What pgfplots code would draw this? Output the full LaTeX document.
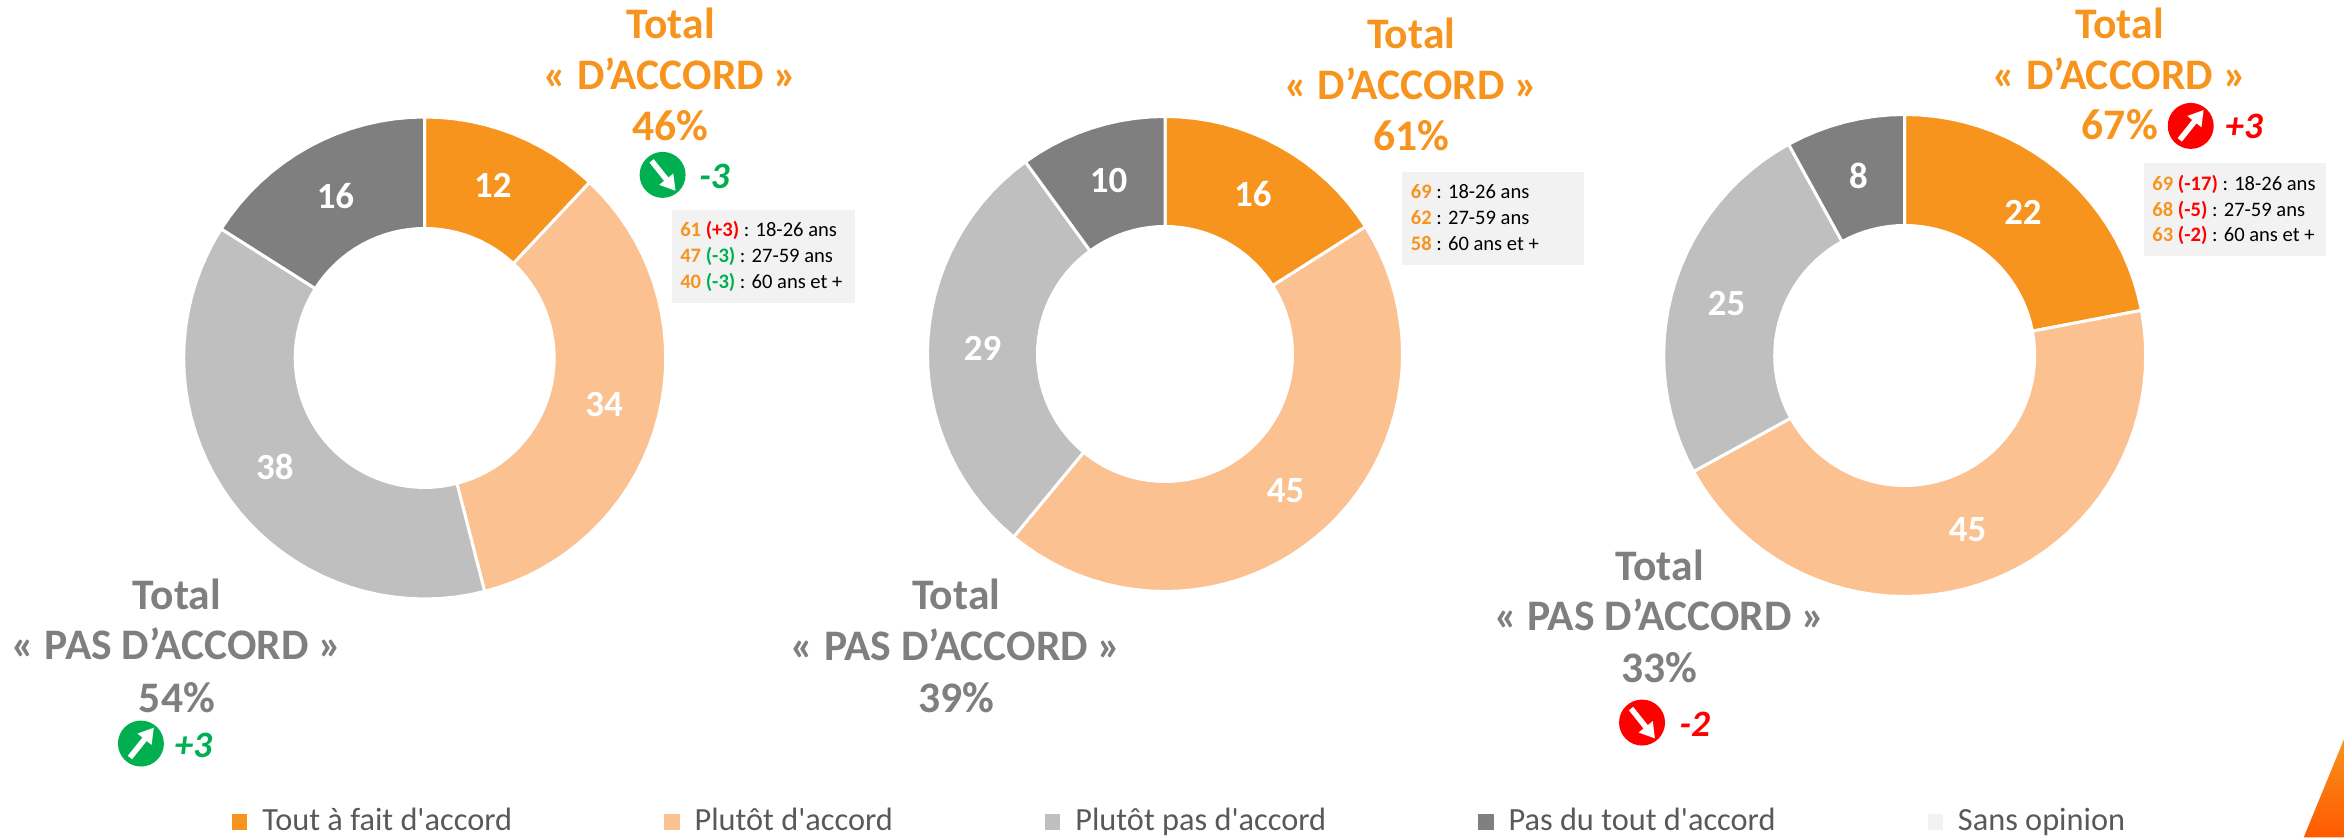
\documentclass[border=0pt]{standalone}
\usepackage{pgfplots}
\pgfplotsset{compat=1.18}
\usepgfplotslibrary{polar}
\usetikzlibrary{arrows.meta}
\usepackage{fontspec}
\setmainfont{Carlito}
\definecolor{c1}{HTML}{F7941E}
\definecolor{c2}{HTML}{FBC191}
\definecolor{c3}{HTML}{BFBFBF}
\definecolor{c4}{HTML}{7F7F7F}
\definecolor{c5}{HTML}{F2F2F2}
\definecolor{gtxt}{HTML}{595959}
\definecolor{grn}{HTML}{00B050}
\definecolor{rd}{HTML}{FF0000}
\tikzset{wedge/.style={draw=white,line width=0.03cm,line join=miter},
  dl/.style={text=white,font=\fontsize{10.5pt}{12pt}\selectfont\bfseries,inner sep=0pt},
  tl/.style={anchor=base,inner sep=0pt,yshift=-0.015cm,font=\fontsize{12.4pt}{14pt}\selectfont\bfseries},
  dv/.style={anchor=base west,inner sep=0pt,font=\fontsize{10.6pt}{12pt}\selectfont\bfseries\itshape},
  bx/.style={anchor=base west,inner sep=0pt,font=\fontsize{5.85pt}{7pt}\selectfont}}
\newcommand\ring[3]{%
  \def\pts{}%
  \pgfplotsforeachungrouped \i in {0,...,#2}{%
    \pgfmathsetmacro\t{mod(450-3.6*(#1+\i),360)}%
    \edef\pts{\pts (\t,\Ro)}}%
  \pgfplotsforeachungrouped \i in {0,...,#2}{%
    \pgfmathsetmacro\t{mod(450-3.6*(#1+#2-\i),360)}%
    \edef\pts{\pts (\t,\Ri)}}%
  \edef\tmp{\noexpand\addplot[wedge,fill=#3] coordinates {\pts} --cycle;}\tmp
  \pgfmathsetmacro\t{mod(450-3.6*(#1+#2/2),360)}%
  \pgfmathsetmacro\Rm{(\Ro+\Ri)/2}%
  \edef\tmp{\noexpand\node[dl] at (axis cs:\t,\Rm) {#2};}\tmp
}
\pgfplotsset{donut/.style={scale only axis,hide axis,clip=false,anchor=center,
  xmin=0,xmax=360,ymin=0}}
\newcommand\icon[4]{% x y colour dir(1 up, -1 down)
  \fill[#3] (#1,#2) circle (23);
  \draw[white,line width=0.055cm,-{Triangle[length=0.15cm,width=0.17cm]}]
    (#1-11,{#2+#4*14}) -- (#1+13,{#2-#4*16});
}
\newcommand\xo[1]{\textcolor{c1}{\bfseries #1}}
\newcommand\xr[1]{\textcolor{rd}{\bfseries #1}}
\newcommand\xg[1]{\textcolor{grn}{\bfseries #1}}
\begin{document}
\begin{tikzpicture}
\path[use as bounding box] (0,0) rectangle (23.46cm,8.38cm);
% Chart 1
\def\Ro{241}\def\Ri{129.5}
\begin{polaraxis}[donut,at={(4.247cm,4.80cm)},width=4.82cm,height=4.82cm,ymax=241]
\ring{0}{12}{c1}\ring{12}{34}{c2}\ring{46}{38}{c3}\ring{84}{16}{c4}
\end{polaraxis}
% Chart 2
\def\Ro{237.5}\def\Ri{127.5}
\begin{polaraxis}[donut,at={(11.65cm,4.84cm)},width=4.75cm,height=4.75cm,ymax=237.5]
\ring{0}{16}{c1}\ring{16}{45}{c2}\ring{61}{29}{c3}\ring{90}{10}{c4}
\end{polaraxis}
% Chart 3
\def\Ro{241}\def\Ri{130}
\begin{polaraxis}[donut,at={(19.047cm,4.825cm)},width=4.82cm,height=4.82cm,ymax=241]
\ring{0}{22}{c1}\ring{22}{45}{c2}\ring{67}{25}{c3}\ring{92}{8}{c4}
\end{polaraxis}
% Legend
\begin{axis}[at={(0,0)},anchor=south west,scale only axis,width=23.46cm,height=8.38cm,
  xmin=0,xmax=2346,ymin=0,ymax=838,hide axis,clip=false,
  legend columns=5,
  legend style={at={(0.0989,0.0191)},anchor=west,draw=none,fill=none,inner sep=0pt,outer sep=0pt,
    font=\fontsize{9.2pt}{11pt}\selectfont\color{gtxt},
    nodes={inner sep=0pt,outer sep=0pt},
    /tikz/every even column/.append style={column sep=1.52cm}},
  legend cell align=left,
  legend image code/.code={\fill[#1] (0,-0.07cm) rectangle (0.14cm,0.07cm);\path (0.29cm,0);}]
\addlegendimage{c1}\addlegendentry{Tout à fait d\textquotesingle accord}
\addlegendimage{c2}\addlegendentry{Plutôt d\textquotesingle accord}
\addlegendimage{c3}\addlegendentry{Plutôt pas d\textquotesingle accord}
\addlegendimage{c4}\addlegendentry{Pas du tout d\textquotesingle accord}
\addlegendimage{c5}\addlegendentry{Sans opinion}
\end{axis}
\begin{scope}[x=0.01cm,y=-0.01cm,yshift=8.38cm]
% corner
\shade[top color=c1,bottom color=orange!70!red] (2346,738) -- (2305,838) -- (2346,838) -- cycle;
% Chart 1 texts
\node[tl,c1] at (671,37) {Total};
\node[tl,c1] at (671,88) {« D’ACCORD »};
\node[tl,c1] at (671,139) {46\%};
\icon{663}{175}{grn}{-1}
\node[dv,grn] at (699,189) {-3};
\fill[c5] (672,210) rectangle (855,303);
\node[bx] at (680,237) {\xo{61} \xr{(+3)} : 18-26 ans};
\node[bx] at (680,263) {\xo{47} \xg{(-3)} : 27-59 ans};
\node[bx] at (680,289) {\xo{40} \xg{(-3)} : 60 ans et +};
\node[tl,c4] at (177,608) {Total};
\node[tl,c4] at (177,658) {« PAS D’ACCORD »};
\node[tl,c4] at (177,711) {54\%};
\icon{141}{744}{grn}{1}
\node[dv,grn] at (174,758) {+3};
% Chart 2 texts
\node[tl,c1] at (1412,47) {Total};
\node[tl,c1] at (1412,98) {« D’ACCORD »};
\node[tl,c1] at (1412,149) {61\%};
\fill[c5] (1403,172) rectangle (1585,265);
\node[bx] at (1411,199) {\xo{69} : 18-26 ans};
\node[bx] at (1411,225) {\xo{62} : 27-59 ans};
\node[bx] at (1411,251) {\xo{58} : 60 ans et +};
\node[tl,c4] at (956.7,608) {Total};
\node[tl,c4] at (956.7,659) {« PAS D’ACCORD »};
\node[tl,c4] at (956.7,711) {39\%};
% Chart 3 texts
\node[tl,c1] at (2121,37) {Total};
\node[tl,c1] at (2121,88) {« D’ACCORD »};
\node[tl,c1] at (2121,138) {67\%};
\icon{2192}{126}{rd}{1}
\node[dv,rd] at (2226,139) {+3};
\fill[c5] (2145,163) rectangle (2327,256);
\node[bx] at (2153,191) {\xo{69} \xr{(-17)} : 18-26 ans};
\node[bx] at (2153,217) {\xo{68} \xr{(-5)} : 27-59 ans};
\node[bx] at (2153,242) {\xo{63} \xr{(-2)} : 60 ans et +};
\node[tl,c4] at (1660.6,579) {Total};
\node[tl,c4] at (1660.6,629) {« PAS D’ACCORD »};
\node[tl,c4] at (1660.6,681) {33\%};
\icon{1643}{723}{rd}{-1}
\node[dv,rd] at (1680,737) {-2};
\end{scope}
\end{tikzpicture}
\end{document}
